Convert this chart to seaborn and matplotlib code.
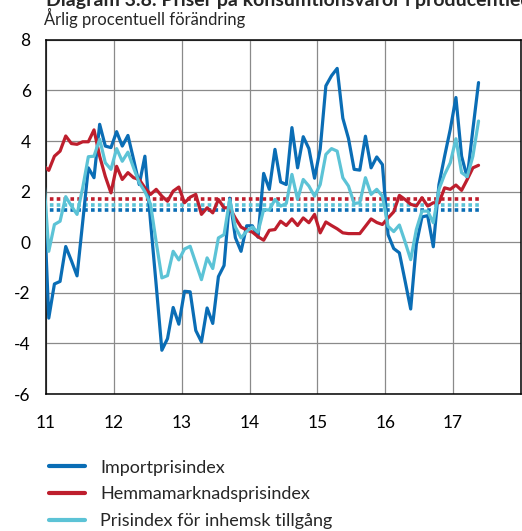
"""Diagram: priser på konsumtionsvaror i producentled, årlig procentuell förändring."""

import matplotlib

matplotlib.use("Agg")
import matplotlib.pyplot as plt
import numpy as np
import pandas as pd
import seaborn as sns

# monthly observations, Dec 2010 .. May 2017 (Dec 2010 only feeds the clipped first segment)
months = pd.date_range("2010-12-01", "2017-05-01", freq="MS")

importpris = [
    2.4,
    -3.0, -1.65, -1.55, -0.17, -0.73, -1.33, 0.8, 2.94, 2.55, 4.66, 3.8, 3.74,
    4.37, 3.8, 4.22, 3.27, 2.28, 3.4, 0.8, -1.7, -4.27, -3.81, -2.58, -3.24,
    -1.94, -1.96, -3.49, -3.94, -2.6, -3.21, -1.36, -0.92, 1.74, 0.18, -0.36, 0.65,
    0.65, 0.2, 2.72, 2.09, 3.67, 2.38, 2.28, 4.53, 2.94, 4.17, 3.7, 2.53,
    3.68, 6.18, 6.58, 6.87, 4.9, 4.1, 2.88, 2.85, 4.19, 2.94, 3.37, 3.07,
    0.3, -0.25, -0.42, -1.52, -2.64, -0.08, 1.0, 1.05, -0.18, 2.28, 3.4, 4.46,
    5.72, 3.4, 2.55, 4.46, 6.31,
]
hemmamarknad = [
    3.04,
    2.84, 3.4, 3.6, 4.2, 3.9, 3.87, 3.97, 3.97, 4.44, 3.4, 2.6, 1.95,
    3.0, 2.48, 2.75, 2.55, 2.48, 2.15, 1.89, 2.09, 1.82, 1.62, 2.02, 2.18,
    1.56, 1.78, 1.89, 1.1, 1.36, 1.16, 1.69, 1.36, 1.36, 0.95, 0.6, 0.48,
    0.4, 0.22, 0.08, 0.47, 0.5, 0.83, 0.66, 0.92, 0.66, 0.96, 0.77, 1.1,
    0.37, 0.8, 0.66, 0.53, 0.37, 0.34, 0.34, 0.34, 0.63, 0.92, 0.78, 0.7,
    0.96, 1.2, 1.85, 1.69, 1.5, 1.43, 1.76, 1.43, 1.56, 1.56, 2.15, 2.09,
    2.26, 2.05, 2.48, 2.94, 3.04,
]
inhemsk_tillgang = [
    2.96,
    -0.36, 0.7, 0.83, 1.8, 1.43, 1.1, 2.15, 3.38, 3.4, 4.07, 3.14, 2.88,
    3.7, 3.2, 3.56, 2.94, 2.35, 2.0, 1.5, 0.0, -1.41, -1.32, -0.36, -0.7,
    -0.27, -0.16, -0.82, -1.48, -0.62, -1.04, 0.17, 0.3, 1.69, 0.6, 0.17, 0.43,
    0.6, 0.4, 1.29, 1.27, 1.69, 1.43, 1.53, 2.68, 1.69, 2.48, 2.22, 1.82,
    2.28, 3.47, 3.7, 3.6, 2.55, 2.22, 1.53, 1.56, 2.55, 1.89, 2.09, 1.82,
    0.63, 0.42, 0.68, 0.02, -0.69, 0.5, 1.23, 1.23, 0.77, 2.09, 2.68, 3.14,
    4.09, 2.75, 2.59, 3.4, 4.79,
]

# period averages (dotted lines)
medel = {"Hemmamarknadsprisindex": 1.72, "Prisindex för inhemsk tillgång": 1.47, "Importprisindex": 1.28}

series_names = ["Importprisindex", "Hemmamarknadsprisindex", "Prisindex för inhemsk tillgång"]
colors = {
    "Importprisindex": "#0A6DB5",
    "Hemmamarknadsprisindex": "#BE1E2D",
    "Prisindex för inhemsk tillgång": "#5CC3D6",
}
year_ticks = [2011, 2012, 2013, 2014, 2015, 2016, 2017]
year_labels = ["11", "12", "13", "14", "15", "16", "17"]


def main() -> None:
    sns.set_theme(style="white")
    plt.rcParams["font.family"] = ["Lato", "DejaVu Sans"]

    t = months.year + (months.month - 0.5) / 12
    df = pd.DataFrame(
        {
            "t": np.tile(t, 3),
            "serie": np.repeat(series_names, len(months)),
            "varde": importpris + hemmamarknad + inhemsk_tillgang,
        }
    )

    fig = plt.figure(figsize=(5.22, 5.31), dpi=100)
    ax = fig.add_axes([0.088, 0.258, 0.91, 0.667])

    # average lines, drawn first so the series sit on top
    for name in ["Importprisindex", "Prisindex för inhemsk tillgång", "Hemmamarknadsprisindex"]:
        ax.plot([t[0], t[-1]], [medel[name], medel[name]], color=colors[name], lw=2.6,
                linestyle=(0, (1, 0.9)), solid_capstyle="butt", zorder=2)

    sns.lineplot(data=df, x="t", y="varde", hue="serie", hue_order=series_names,
                 palette=colors, linewidth=2.3, ax=ax, legend=False, zorder=3)

    ax.set_xlim(2011, 2018)
    ax.set_ylim(-6, 8)
    ax.set_xticks(year_ticks + [2018])
    ax.set_xticklabels(year_labels + [""])
    ax.set_yticks(range(-6, 9, 2))
    ax.set_yticklabels([str(v) for v in range(-6, 9, 2)])
    ax.grid(True, color="#8a8a8a", lw=0.9)
    ax.set_axisbelow(True)
    ax.tick_params(axis="both", length=0, labelsize=12.5, colors="black")
    ax.tick_params(axis="x", pad=15)
    ax.tick_params(axis="y", pad=11)
    ax.set_xlabel("")
    ax.set_ylabel("")
    for spine in ax.spines.values():
        spine.set_color("black")
        spine.set_linewidth(1.1)

    fig.text(0.088, 1.0 - 6 / 531, "Diagram 3.8. Priser på konsumtionsvaror i producentled",
             fontsize=14, fontweight="bold", va="baseline", ha="left")
    fig.text(0.085, 1.0 - 18 / 531, "Årlig procentuell förändring", fontsize=12, va="center", ha="left")

    handles = [plt.Line2D([], [], color=colors[n], lw=3) for n in series_names]
    fig.legend(handles, series_names, loc="upper left", bbox_to_anchor=(0.08, 0.148),
               frameon=False, fontsize=13, handlelength=2.0, handletextpad=0.85,
               labelspacing=0.6, borderaxespad=0)

    fig.savefig("out.png", dpi=100)
    plt.close(fig)


if __name__ == "__main__":
    main()
